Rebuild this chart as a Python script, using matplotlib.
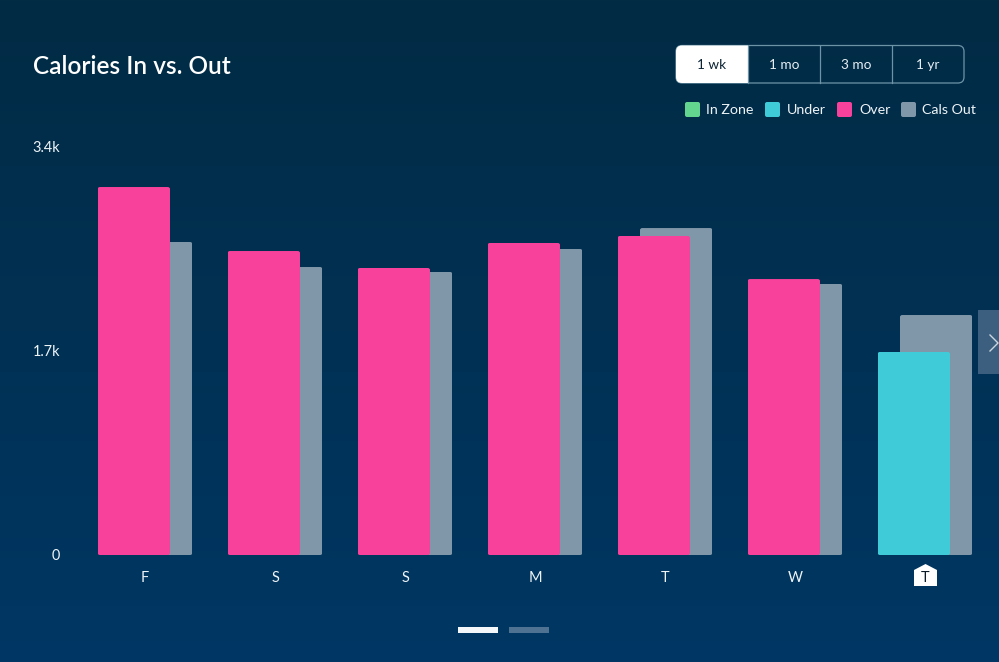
import numpy as np
from matplotlib import pyplot as plt
from matplotlib.patches import FancyBboxPatch, Polygon, Rectangle

days = ['F', 'S', 'S', 'M', 'T', 'W', 'T']
cals_in = [3059, 2527, 2386, 2594, 2652, 2294, 1688]
cals_out = [2602, 2394, 2353, 2544, 2718, 2253, 1995]
# the last day is under target, all the others over
in_colors = ['#f8419a', '#f8419a', '#f8419a', '#f8419a', '#f8419a', '#f8419a', '#40cbd8']
y_ticks = [0, 1700, 3400]
y_labels = ['0', '1.7k', '3.4k']
ranges = ['1 wk', '1 mo', '3 mo', '1 yr']
legend_names = ['In Zone', 'Under', 'Over', 'Cals Out']
legend_colors = ['#63d58f', '#40cbd8', '#f8419a', '#8097a9']

W, H = 999, 662
plt.rcParams['font.family'] = ['Lato', 'DejaVu Sans']
fig = plt.figure(figsize=(W / 100, H / 100), dpi=100)


def px(size):
    return size * 0.72


# background and page furniture, in pixel coordinates
ui = fig.add_axes([0, 0, 1, 1], zorder=0)
ui.axis('off')
top, bottom = np.array([2, 43, 68]), np.array([0, 55, 100])
steps = np.linspace(0, 1, H)[:, None]
ui.imshow((top + (bottom - top) * steps)[:, None, :] / 255, extent=(0, W, H, 0), aspect='auto')
ui.set_xlim(0, W)
ui.set_ylim(H, 0)

ui.text(33, 66, 'Calories In vs. Out', color='white', fontsize=px(24.4), fontweight='semibold', va='center')

# range selector
seg_left, seg_w = 676, 72
border = '#6d93a6'
ui.add_patch(FancyBboxPatch((seg_left, 45.5), seg_w * 4, 37.5, boxstyle='round,pad=0,rounding_size=6',
                            fc='none', ec=border, lw=0.9))
sel = FancyBboxPatch((seg_left, 45.5), seg_w + 10, 37.5, boxstyle='round,pad=0,rounding_size=6', fc='white', ec='none')
ui.add_patch(sel)
sel.set_clip_path(Rectangle((seg_left, 45), seg_w, 38.5, transform=ui.transData))
for i, name in enumerate(ranges):
    if i > 0:
        ui.plot([seg_left + seg_w * i] * 2, [45.5, 83], color=border, lw=0.9)
    ui.text(seg_left + seg_w * (i + 0.5), 65, name, color='#0b2233' if i == 0 else '#e6eef2',
            fontsize=px(13.6), ha='center', va='center')

# legend
for x0, text_x, name, color in zip([685, 765, 837, 901], [706, 787, 859, 922], legend_names, legend_colors):
    ui.add_patch(FancyBboxPatch((x0, 102), 15, 15, boxstyle='round,pad=0,rounding_size=2', fc=color, ec='none'))
    ui.text(text_x, 110.5, name, color='#eef4f6', fontsize=px(14.2), va='center')

# next page tab
ui.add_patch(Rectangle((978, 310), 21, 64, fc='#3c5f7f', ec='none'))
ui.plot([990, 998, 990], [335, 343, 351], color='#c9d6e0', lw=1.0)

# marker behind today's label
ui.add_patch(Polygon([(914, 570), (925.5, 564), (937, 570), (937, 586), (914, 586)], fc='white', ec='none'))

# pager
ui.add_patch(Rectangle((458, 627), 40, 6, fc='#f4f8fb', ec='none'))
ui.add_patch(Rectangle((509, 627), 40, 6, fc='#4f7293', ec='none'))

# chart
ax = fig.add_axes([0, 1 - 555 / H, 1, 409 / H], zorder=1)
ax.patch.set_alpha(0)
ax.set_xlim(-145 / 130, (W - 145) / 130)
ax.set_ylim(0, 3400)
for side in ax.spines.values():
    side.set_visible(False)

x = np.arange(len(days))
bar_w, shift = 0.558, 0.086
out_bars = ax.bar(x + shift, cals_out, bar_w, color='#8097a9')
in_bars = ax.bar(x - shift, cals_in, bar_w, color=in_colors)

# small rounded corners on every bar
for bar in list(out_bars) + list(in_bars):
    clip = FancyBboxPatch((bar.get_x(), 0), bar.get_width(), bar.get_height(),
                          boxstyle='round,pad=0,rounding_size=0.018', mutation_aspect=1081,
                          transform=ax.transData)
    bar.set_clip_path(clip)

ax.set_xticks(x, days)
ax.set_yticks(y_ticks, y_labels)
ax.tick_params(axis='both', length=0, colors='#eef4f6', labelsize=px(14.5))
ax.tick_params(axis='x', pad=px(16.5))
ax.tick_params(axis='y', pad=px(-60))
ax.get_xticklabels()[-1].set_color('#0b1a26')

fig.savefig('out.png', dpi=100)
